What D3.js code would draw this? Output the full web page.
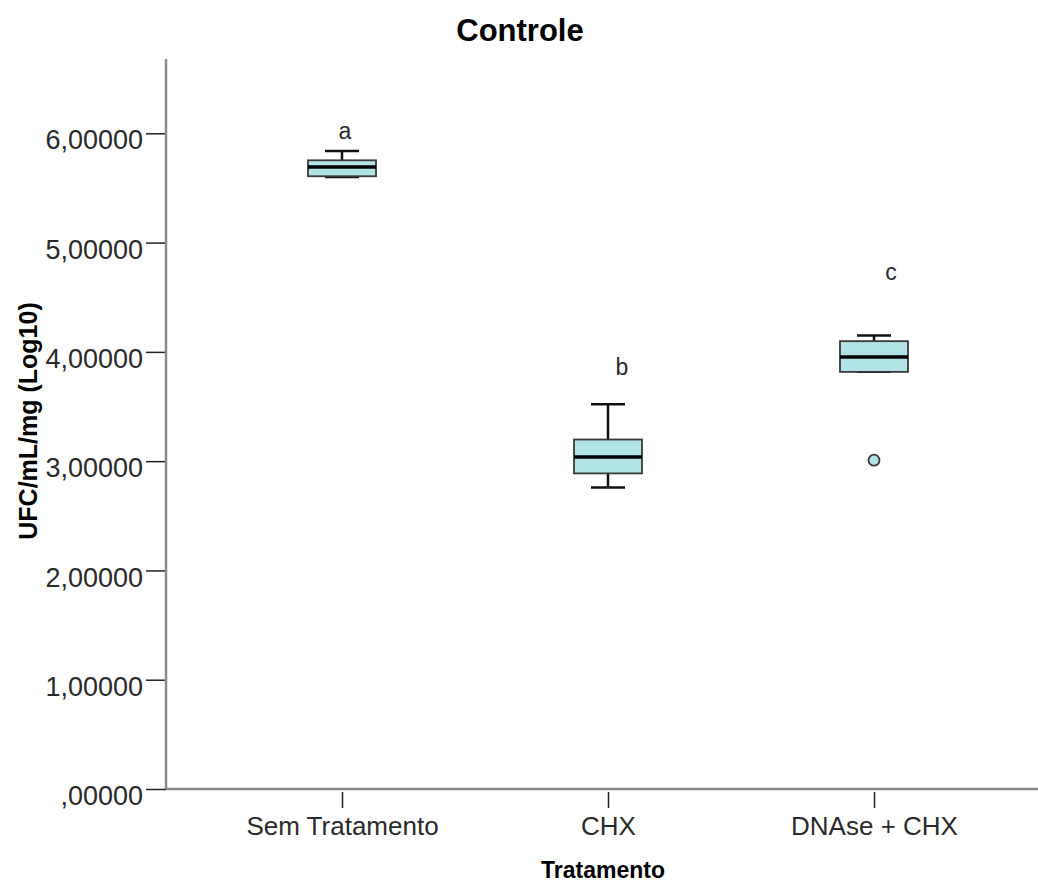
<!DOCTYPE html>
<html>
<head>
<meta charset="utf-8">
<script src="https://cdn.jsdelivr.net/npm/d3@7"></script>
<style>
  body { margin: 0; background: #fff; }
  svg { display: block; font-family: "Liberation Sans", Arial, sans-serif; }
</style>
</head>
<body>
<div id="chart"></div>
<script>
// data
const categories = ['Sem Tratamento', 'CHX', 'DNAse + CHX'];
const mins    = [5.600, 2.760, 3.817];
const q1s     = [5.607, 2.888, 3.817];
const medians = [5.692, 3.039, 3.954];
const q3s     = [5.753, 3.198, 4.098];
const maxs    = [5.838, 3.521, 4.150];
const outliers = [{ cat: 'DNAse + CHX', value: 3.009 }];
const letters = ['a', 'b', 'c'];
const letterY = [5.95, 3.79, 4.66];
const yTicks = [0, 1, 2, 3, 4, 5, 6];

const width = 1038, height = 882;
const x0 = 166, y0 = 789, yTop = 59;
const boxFill = '#b2e4e6';
const boxStroke = '#3a3a3a';

const boxes = categories.map((c, i) => ({
  cat: c, min: mins[i], q1: q1s[i], med: medians[i], q3: q3s[i], max: maxs[i],
  letter: letters[i], ly: letterY[i]
}));

const svg = d3.select('#chart').append('svg')
  .attr('width', width)
  .attr('height', height);

const x = d3.scalePoint()
  .domain(categories)
  .range([342, 874]);
const y = d3.scaleLinear()
  .domain([0, 6.68])
  .range([y0, yTop]);

const locale = d3.formatLocale({ decimal: ',', thousands: '.', grouping: [3], currency: ['', ''] });
const fmt = locale.format('.5f');

// title
svg.append('text')
  .attr('x', 520)
  .attr('y', 41)
  .attr('text-anchor', 'middle')
  .attr('font-size', '31px')
  .attr('font-weight', 'bold')
  .text('Controle');

// y axis
const yAxis = d3.axisLeft(y)
  .tickValues(yTicks)
  .tickSize(20)
  .tickPadding(3)
  .tickFormat(d => d === 0 ? fmt(d).replace(/^0/, '') : fmt(d));
const gy = svg.append('g')
  .attr('transform', `translate(${x0}, 0)`)
  .call(yAxis);
gy.select('.domain').remove();
gy.selectAll('.tick line')
  .attr('stroke', '#222')
  .attr('stroke-width', 1.5);
gy.selectAll('.tick text')
  .attr('font-size', '27px')
  .attr('font-family', '"Liberation Sans", Arial, sans-serif')
  .attr('fill', '#2a2a2a')
  .attr('dy', '0.58em');

// x axis
const xAxis = d3.axisBottom(x)
  .tickSize(19)
  .tickPadding(0);
const gx = svg.append('g')
  .attr('transform', `translate(0, ${y0})`)
  .call(xAxis);
gx.select('.domain').remove();
gx.selectAll('.tick line')
  .attr('stroke', '#222')
  .attr('stroke-width', 1.5)
  .attr('y1', 3);
gx.selectAll('.tick text')
  .attr('font-size', '26px')
  .attr('font-family', '"Liberation Sans", Arial, sans-serif')
  .attr('fill', '#2a2a2a')
  .attr('y', 46)
  .attr('dy', 0);

// axis lines
svg.append('line')
  .attr('x1', x0).attr('x2', x0)
  .attr('y1', yTop).attr('y2', y0)
  .attr('stroke', '#8a8a8a')
  .attr('stroke-width', 2.5);
svg.append('line')
  .attr('x1', x0).attr('x2', width)
  .attr('y1', y0).attr('y2', y0)
  .attr('stroke', '#8a8a8a')
  .attr('stroke-width', 2.5);

// axis titles
svg.append('text')
  .attr('x', 603)
  .attr('y', 878)
  .attr('text-anchor', 'middle')
  .attr('font-size', '23px')
  .attr('font-weight', 'bold')
  .text('Tratamento');
svg.append('text')
  .attr('transform', 'translate(37, 421) rotate(-90)')
  .attr('text-anchor', 'middle')
  .attr('font-size', '25px')
  .attr('font-weight', 'bold')
  .text('UFC/mL/mg (Log10)');

// boxes
const boxW = 68, capW = 34;
const g = svg.append('g')
  .selectAll('g')
  .data(boxes)
  .join('g');

// whiskers
g.append('line')
  .attr('x1', d => x(d.cat)).attr('x2', d => x(d.cat))
  .attr('y1', d => y(d.q3)).attr('y2', d => y(d.max))
  .attr('stroke', '#111').attr('stroke-width', 2.5);
g.append('line')
  .attr('x1', d => x(d.cat)).attr('x2', d => x(d.cat))
  .attr('y1', d => y(d.q1)).attr('y2', d => y(d.min))
  .attr('stroke', '#111').attr('stroke-width', 2.5);
g.append('line')
  .attr('x1', d => x(d.cat) - capW / 2).attr('x2', d => x(d.cat) + capW / 2)
  .attr('y1', d => y(d.max)).attr('y2', d => y(d.max))
  .attr('stroke', '#111').attr('stroke-width', 2.5);
g.append('line')
  .attr('x1', d => x(d.cat) - capW / 2).attr('x2', d => x(d.cat) + capW / 2)
  .attr('y1', d => y(d.min)).attr('y2', d => y(d.min))
  .attr('stroke', '#111').attr('stroke-width', 2.5);

g.append('rect')
  .attr('x', d => x(d.cat) - boxW / 2)
  .attr('y', d => y(d.q3))
  .attr('width', boxW)
  .attr('height', d => y(d.q1) - y(d.q3))
  .attr('fill', boxFill)
  .attr('stroke', boxStroke)
  .attr('stroke-width', 1.8);
g.append('line')
  .attr('x1', d => x(d.cat) - boxW / 2).attr('x2', d => x(d.cat) + boxW / 2)
  .attr('y1', d => y(d.med)).attr('y2', d => y(d.med))
  .attr('stroke', '#000').attr('stroke-width', 3.5);

// letters
g.append('text')
  .attr('x', (d, i) => x(d.cat) + [3, 14, 17][i])
  .attr('y', d => y(d.ly))
  .attr('text-anchor', 'middle')
  .attr('font-size', '23px')
  .attr('fill', '#2a2a2a')
  .text(d => d.letter);

// outliers
svg.append('g')
  .selectAll('circle')
  .data(outliers)
  .join('circle')
    .attr('cx', d => x(d.cat))
    .attr('cy', d => y(d.value))
    .attr('r', 5.5)
    .attr('fill', boxFill)
    .attr('stroke', boxStroke)
    .attr('stroke-width', 1.8);
</script>
</body>
</html>
